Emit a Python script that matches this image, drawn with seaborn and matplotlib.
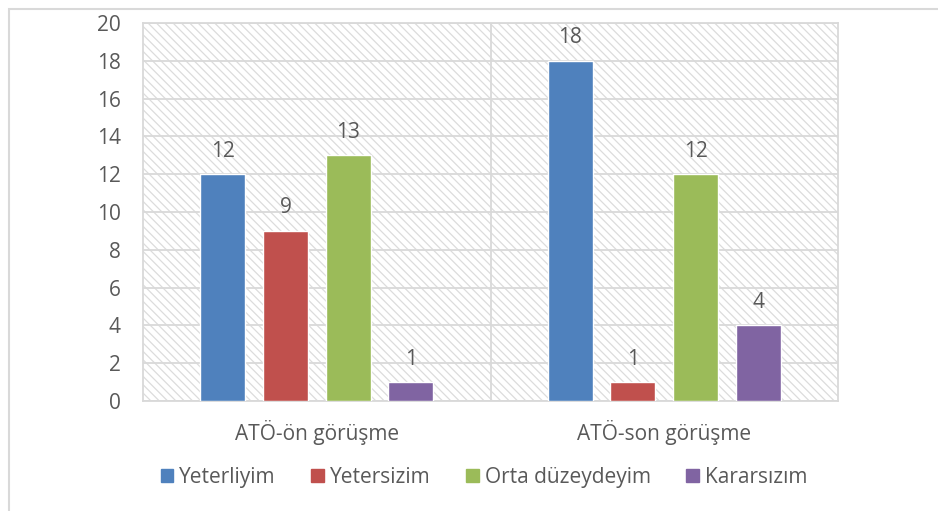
import pandas as pd
import matplotlib.pyplot as plt
import seaborn as sns
from matplotlib.patches import Rectangle

# Datos del gráfico
gruplar = ['ATÖ-ön görüşme', 'ATÖ-son görüşme']
yanitlar = ['Yeterliyim', 'Yetersizim', 'Orta düzeydeyim', 'Kararsızım']
yeterliyim = [12, 18]
yetersizim = [9, 1]
orta = [13, 12]
kararsiz = [1, 4]
renkler = ['#4F81BD', '#C0504D', '#9BBB59', '#8064A2']

df = pd.DataFrame({
    'Grup': gruplar * 4,
    'Yanıt': [y for y in yanitlar for _ in gruplar],
    'Sayı': yeterliyim + yetersizim + orta + kararsiz,
})

sns.set_style('white')
plt.rcParams['font.family'] = ['Open Sans', 'DejaVu Sans']
plt.rcParams['hatch.linewidth'] = 0.9
yazi = '#595959'
izgara = '#d9d9d9'
fs = 15

fig = plt.figure(figsize=(9.38, 5.11), dpi=100)
ax = fig.add_axes([143 / 938, 1 - 401 / 511, 695 / 938, 378 / 511])

# çizgili arka plan
ax.add_patch(Rectangle((0, 0), 1, 1, transform=ax.transAxes, facecolor='white',
                       edgecolor='#dcdcdc', hatch='\\\\\\\\', linewidth=0, zorder=0))

sns.barplot(data=df, x='Grup', y='Sayı', hue='Yanıt', hue_order=yanitlar,
            palette=renkler, width=0.72, gap=0.28, saturation=1, ax=ax, zorder=3,
            legend=False)

for c in ax.containers:
    ax.bar_label(c, padding=9, fontsize=fs, color=yazi)

ax.set_ylim(0, 20)
ax.set_yticks(range(0, 21, 2))
ax.set_xlim(-0.5, 1.5)
ax.set_axisbelow(True)
ax.yaxis.grid(True, color=izgara, linewidth=1.3, zorder=1)
ax.axvline(0.5, color=izgara, linewidth=1.3, zorder=1)
for s in ['left', 'right', 'top', 'bottom']:
    ax.spines[s].set_visible(True)
    ax.spines[s].set_color(izgara)
    ax.spines[s].set_linewidth(1.3)
ax.tick_params(axis='both', length=0, labelsize=fs, labelcolor=yazi)
ax.tick_params(axis='y', pad=16)
ax.tick_params(axis='x', pad=14)
ax.set_xlabel('')
ax.set_ylabel('')

# lejant
tutamaclar = [Rectangle((0, 0), 1, 1, color=r) for r in renkler]
fig.legend(tutamaclar, yanitlar, loc='center', bbox_to_anchor=(484 / 938, 1 - 477 / 511),
           ncol=4, frameon=False, fontsize=fs, labelcolor=yazi, handlelength=0.6,
           handleheight=0.6, handletextpad=0.3, columnspacing=1.7)

# dış çerçeve
fig.patches.append(Rectangle((9 / 938, -0.1), 1.2, 1 - 9 / 511 + 0.1, transform=fig.transFigure,
                             fill=False, edgecolor='#d9d9d9', linewidth=1.5))

fig.savefig('out.png', dpi=100)
